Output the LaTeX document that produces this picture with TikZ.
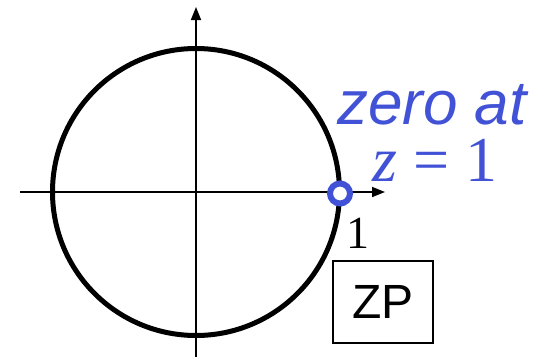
\documentclass[tikz,border=0pt]{standalone}
\usepackage{fontspec}
\setmainfont{Liberation Serif}
\newfontfamily\arialfont{Liberation Sans}
\usetikzlibrary{arrows.meta}
\definecolor{zblue}{RGB}{66,82,214}
\tikzset{
  axisline/.style={line width=1.8pt,-{Triangle[length=13pt,width=10pt]}},
  unitcirc/.style={circle,draw,line width=5pt,minimum size=287pt,inner sep=0pt},
  zeromark/.style={circle,draw=zblue,fill=white,line width=6pt,minimum size=20pt,inner sep=0pt},
  bluelabel/.style={text=zblue,inner sep=0pt},
  zpbox/.style={draw,line width=2pt,minimum width=100pt,minimum height=82pt,inner sep=0pt,font=\arialfont\fontsize{48}{52}\selectfont}
}
\begin{document}
\begin{tikzpicture}[x=1pt,y=-1pt]
\useasboundingbox (0,0) rectangle (539,357);
\coordinate (xl) at (20,192);
\coordinate (xr) at (385,192);
\coordinate (yb) at (196,357);
\coordinate (yt) at (196,7);
\node[unitcirc] (unit) at (196,192) {};
\draw[axisline] (xl) -- (xr);
\draw[axisline] (yb) -- (yt);
\node[zeromark] (zero) at (340,193.5) {};
\node[bluelabel,anchor=base west,font=\arialfont\itshape\fontsize{62}{66}\selectfont] (zeroat) at (337,124) {zero at};
\node[bluelabel,anchor=base west,font=\fontsize{64}{68}\selectfont] (zeq) at (372,181) {\textit{z} = 1};
\node[anchor=base west,inner sep=0pt,font=\fontsize{46}{50}\selectfont] (one) at (346,248) {1};
\node[zpbox] (zp) at (383,302) {ZP};
\end{tikzpicture}
\end{document}
